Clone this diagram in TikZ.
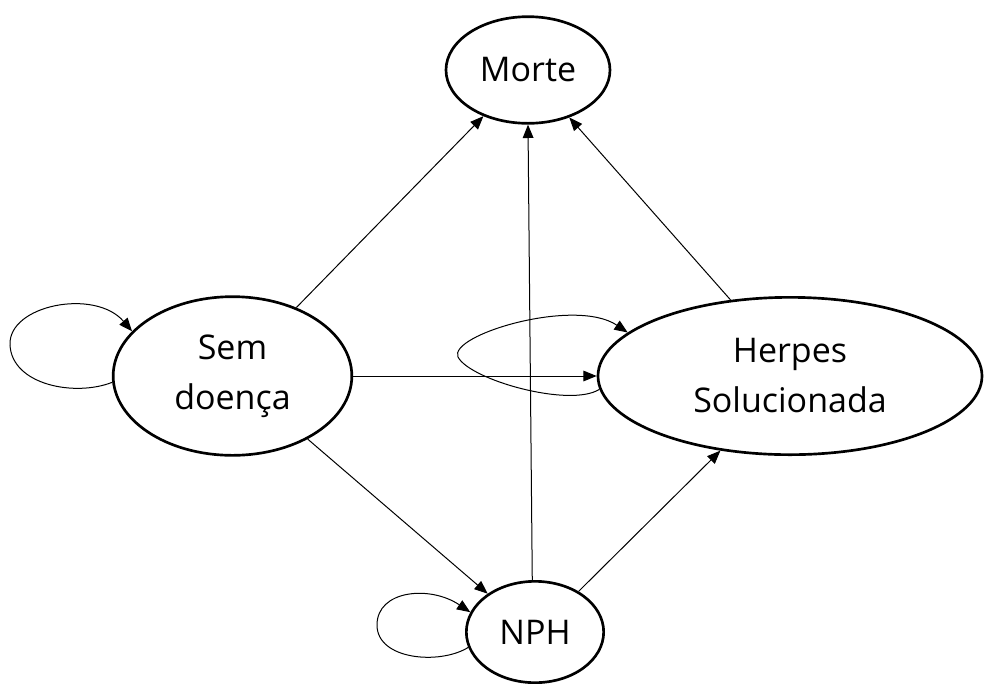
\documentclass[tikz,border=0pt]{standalone}
\usepackage{fontspec}
\setmainfont{Open Sans}
\usetikzlibrary{shapes.geometric,arrows.meta}
\begin{document}
\begin{tikzpicture}[x=0.75pt,y=-0.75pt,
  state/.style={draw,ellipse,line width=2pt,inner sep=0pt,align=center,
    font=\fontsize{25.5}{37.5}\selectfont},
  conn/.style={line width=0.75pt,-{Triangle[length=10pt,width=8pt]}}]
\useasboundingbox (0,0) rectangle (985,683);
\node[state,minimum width=123pt,minimum height=80pt] (morte) at (528,70) {Morte};
\node[state,minimum width=179pt,minimum height=119pt] (sem) at (232.5,376) {Sem\\doença};
\node[state,minimum width=288pt,minimum height=118pt] (herp) at (790,376) {Herpes\\Solucionada};
\node[state,minimum width=103pt,minimum height=76pt] (nph) at (535,632) {NPH};
\draw[conn] (sem.47) -- (morte.226);
\draw[conn] (nph.93) -- (morte.270);
\draw[conn] (herp.128) -- (morte.311);
\draw[conn] (sem.east) -- (herp.west |- sem.east);
\draw[conn] (sem.320) -- (nph.141);
\draw[conn] (nph.43) -- (herp.227);
\draw[conn] (sem.183) .. controls (75,397) and (12,385) .. (10,345)
  .. controls (8,305) and (95,288) .. (sem.156);
\draw[conn] (herp.184) .. controls (570,408) and (470,380) .. (458,357)
  .. controls (448,335) and (575,297) .. (herp.165);
\draw[conn] (nph.193) .. controls (440,665) and (377,660) .. (377,625)
  .. controls (377,590) and (430,585) .. (nph.163);
\end{tikzpicture}
\end{document}
